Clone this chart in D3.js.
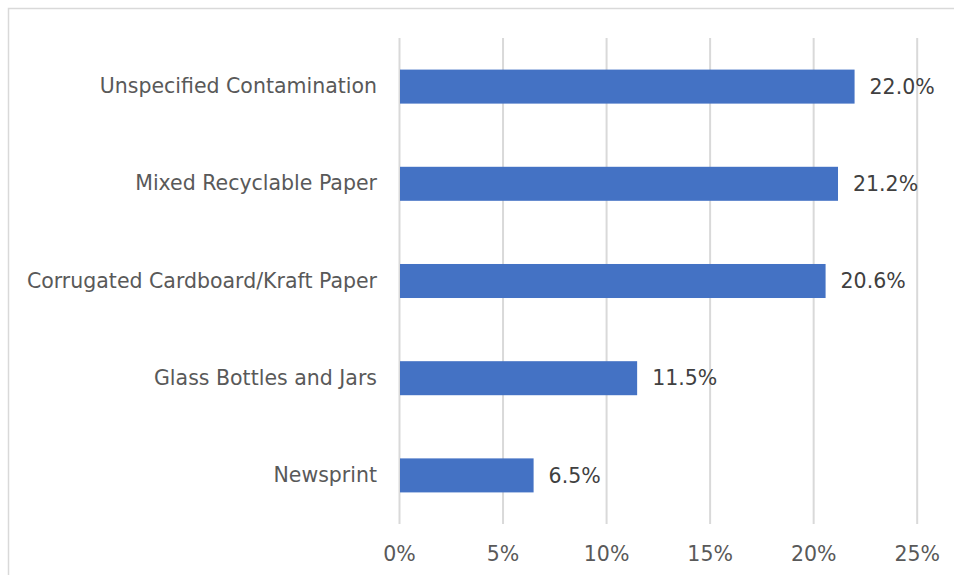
<!DOCTYPE html>
<html>
<head>
<meta charset="utf-8">
<script src="https://cdn.jsdelivr.net/npm/d3@7"></script>
<style>
  html, body { margin: 0; padding: 0; background: #fff; }
  svg { display: block; }
  text { font-family: "DejaVu Sans", "Liberation Sans", Arial, sans-serif; }
</style>
</head>
<body>
<svg id="chart" width="954" height="575"></svg>
<script>
// Share of sampled material, by category (percent)
const categories = [
  "Unspecified Contamination",
  "Mixed Recyclable Paper",
  "Corrugated Cardboard/Kraft Paper",
  "Glass Bottles and Jars",
  "Newsprint"
];
const shares = [22.0, 21.2, 20.6, 11.5, 6.5];
const xTicks = [0, 5, 10, 15, 20, 25];

const svg = d3.select("#chart");
const W = 954, H = 575;
const plot = { left: 399, right: 916.7, top: 38, bottom: 524 };
const FONT = "20.5px";

// outer chart frame
svg.append("rect")
  .attr("x", 8.5).attr("y", 8.5)
  .attr("width", W + 10).attr("height", H + 10)
  .attr("fill", "#fff")
  .attr("stroke", "#d9d9d9").attr("stroke-width", 1.5);

const x = d3.scaleLinear().domain([0, 25]).range([plot.left, plot.right]);
const y = d3.scaleBand().domain(categories).range([plot.top, plot.bottom]).paddingInner(0.65).paddingOuter(0.325);

// vertical gridlines + tick labels
const xAxis = d3.axisBottom(x)
  .tickValues(xTicks)
  .tickFormat(d => d + "%")
  .tickSize(-(plot.bottom - plot.top))
  .tickPadding(22);

const gx = svg.append("g")
  .attr("transform", `translate(0,${plot.bottom})`)
  .call(xAxis);
gx.select(".domain").remove();
gx.selectAll(".tick line").attr("stroke", "#d9d9d9").attr("stroke-width", 2);
gx.selectAll(".tick text")
  .attr("fill", "#595959")
  .style("font-size", FONT);

// category labels
const yAxis = d3.axisLeft(y).tickSize(0).tickPadding(22);
const gy = svg.append("g")
  .attr("transform", `translate(${plot.left},0)`)
  .call(yAxis);
gy.select(".domain").remove();
gy.selectAll(".tick text")
  .attr("fill", "#595959")
  .style("font-size", FONT);

// bars
const rows = categories.map((c, i) => ({ c, v: shares[i] }));
svg.append("g").selectAll("rect")
  .data(rows)
  .join("rect")
  .attr("x", x(0) + 1)
  .attr("y", d => y(d.c))
  .attr("width", d => x(d.v) - x(0) - 1)
  .attr("height", y.bandwidth())
  .attr("fill", "#4472c4");

// value labels
svg.append("g").selectAll("text")
  .data(rows)
  .join("text")
  .attr("x", d => x(d.v) + 15)
  .attr("y", d => y(d.c) + y.bandwidth() / 2)
  .attr("dy", "0.35em")
  .attr("fill", "#404040")
  .style("font-size", FONT)
  .text(d => d.v.toFixed(1) + "%");
</script>
</body>
</html>
